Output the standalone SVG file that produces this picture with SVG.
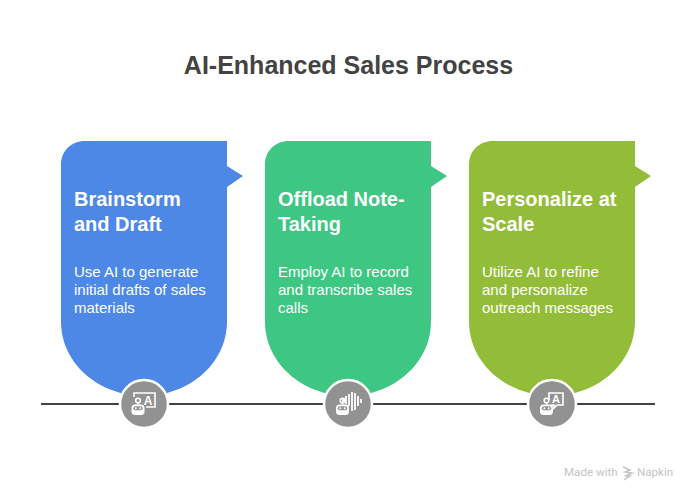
<svg xmlns="http://www.w3.org/2000/svg" width="697" height="500" viewBox="0 0 697 500">
<style>
text{font-family:"Liberation Sans",Arial,sans-serif}
.title{font-size:25px;font-weight:700;fill:#434343}
.head{font-size:20px;font-weight:700;fill:#fff}
.body{font-size:15px;fill:#fff}
.disc{fill:#929292;stroke:#fff;stroke-width:2.5}
.ic{fill:none;stroke:#fff;stroke-width:1.6}
.icf{fill:#fff}
.mark{font-family:Roboto,"Liberation Sans",sans-serif;font-size:11.6px;fill:#c4c4c4}
</style>
<defs>
<path id="card" d="M24 0H166V25L182 35L166 46V180C166 225 125 255 83 255C41 255 0 225 0 180V24C0 10 10 0 24 0Z"/>
<g id="bot">
<circle cx="0" cy="-7" r="2.300" class="ic"/>
<path d="M0 -4.700V-3" class="icf" stroke="#fff" stroke-width="1.500"/>
<rect x="-6.500" y="-3" width="13" height="10.500" rx="3.500" class="icf"/>
<rect x="-4.700" y="-1.300" width="9.400" height="4" rx="2" fill="#929292"/>
<circle cx="-2.200" cy="0.700" r="1" class="icf"/>
<circle cx="2.200" cy="0.700" r="1" class="icf"/>
</g>
</defs>
<text class="title" x="348.500" y="74" text-anchor="middle">AI-Enhanced Sales Process</text>
<g id="connectors"><path d="M41 404H655" stroke="#434343" stroke-width="2" fill="none"/></g>
<g id="node-1">
<use href="#card" x="61" y="141" fill="#4d88e6"/>
<text class="head"><tspan x="74" y="206">Brainstorm</tspan><tspan x="74" y="231">and Draft</tspan></text>
<text class="body"><tspan x="74" y="277">Use AI to generate</tspan><tspan x="74" y="295">initial drafts of sales</tspan><tspan x="74" y="313">materials</tspan></text>
<circle class="disc" cx="144" cy="404" r="24"/>
<path class="ic" d="M134 397V393H155V407H146"/>
<text x="148" y="405" text-anchor="middle" font-size="12" font-weight="700" fill="#fff">A</text>
<use href="#bot" x="138" y="407.500"/>
</g>
<g id="node-2">
<use href="#card" x="265" y="141" fill="#3ec683"/>
<text class="head"><tspan x="278" y="206">Offload Note-</tspan><tspan x="278" y="231">Taking</tspan></text>
<text class="body"><tspan x="278" y="277">Employ AI to record</tspan><tspan x="278" y="295">and transcribe sales</tspan><tspan x="278" y="313">calls</tspan></text>
<circle class="disc" cx="348" cy="404" r="24"/>
<path d="M343 398V402M346 396V404M349 394V406M352 392V411M355 393V410M358 396V406M361 399V403" stroke="#fff" stroke-width="1.800" fill="none"/>
<use href="#bot" x="342.500" y="407.500"/>
</g>
<g id="node-3">
<use href="#card" x="469" y="141" fill="#93bd39"/>
<text class="head"><tspan x="482" y="206">Personalize at</tspan><tspan x="482" y="231">Scale</tspan></text>
<text class="body"><tspan x="482" y="277">Utilize AI to refine</tspan><tspan x="482" y="295">and personalize</tspan><tspan x="482" y="313">outreach messages</tspan></text>
<circle class="disc" cx="552" cy="404" r="24"/>
<path class="ic" d="M549 400V393H563V405H557L554 408V405H551"/>
<text x="556" y="403" text-anchor="middle" font-size="11" font-weight="700" fill="#fff">A</text>
<use href="#bot" x="546.500" y="407.500"/>
</g>
<g id="watermark">
<text class="mark" x="564" y="476">Made with</text>
<path d="M623 467L630 470L625 472L632 473L625 476L630 476L624 480" stroke="#c4c4c4" stroke-width="1.500" fill="none"/>
<text class="mark" x="637" y="476">Napkin</text>
</g>
</svg>
